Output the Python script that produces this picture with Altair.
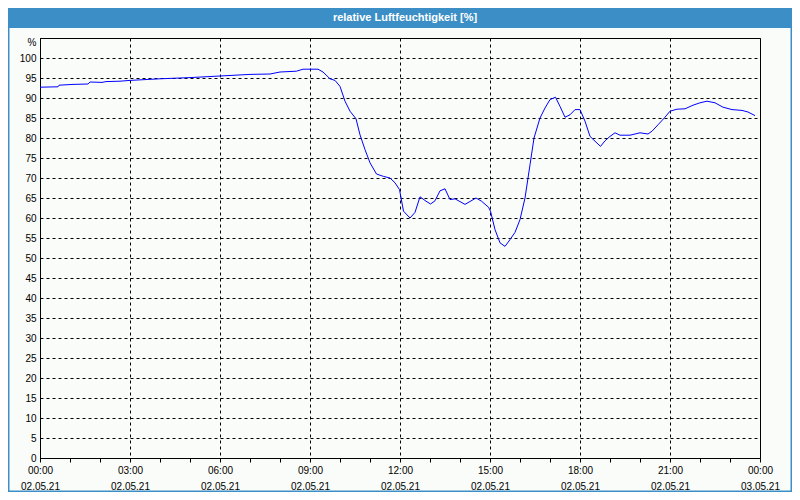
import altair as alt
import pandas as pd

# --- data ---------------------------------------------------------------
times = [
    "00:00", "00:36", "00:38", "01:06", "01:36", "01:40", "02:04", "02:12", "02:40",
    "03:00", "04:00", "05:00", "06:00", "07:00", "07:40", "08:00", "08:33", "08:46",
    "09:00", "09:16", "09:26", "09:40", "09:50", "10:00", "10:10", "10:20", "10:32",
    "10:40", "10:50", "11:00", "11:13", "11:27", "11:40", "11:50", "11:59", "12:07",
    "12:20", "12:30", "12:40", "12:52", "13:01", "13:10", "13:20", "13:30", "13:40",
    "13:50", "14:10", "14:32", "14:43", "14:57", "15:01", "15:10", "15:20", "15:30",
    "15:40", "15:50", "16:00", "16:10", "16:20", "16:28", "16:40", "16:50", "17:00",
    "17:11", "17:20", "17:30", "17:40", "17:50", "18:00", "18:10", "18:20", "18:30",
    "18:41", "18:50", "19:00", "19:10", "19:20", "19:40", "20:00", "20:16", "20:24",
    "20:36", "20:50", "21:00", "21:14", "21:30", "21:46", "22:00", "22:14", "22:30",
    "22:46", "23:04", "23:24", "23:36", "23:50",
]
humidity = [
    92.7, 92.8, 93.2, 93.4, 93.5, 94.0, 93.9, 94.1, 94.2,
    94.4, 94.8, 95.1, 95.5, 95.9, 96.0, 96.5, 96.7, 97.2,
    97.2, 97.2, 96.5, 94.8, 94.4, 92.9, 89.2, 86.7, 84.8,
    80.8, 77.1, 73.8, 71.0, 70.4, 70.0, 68.8, 67.1, 61.7,
    60.0, 61.4, 65.3, 64.2, 63.5, 64.3, 66.8, 67.3, 64.6,
    64.8, 63.4, 65.0, 64.2, 62.7, 61.7, 57.1, 53.8, 52.9,
    54.6, 56.4, 59.6, 65.0, 73.3, 80.0, 85.0, 87.5, 89.6,
    90.2, 87.9, 85.2, 85.8, 87.1, 87.1, 84.2, 80.4, 79.2,
    77.9, 79.3, 80.4, 81.3, 80.7, 80.7, 81.3, 81.0, 81.7,
    83.3, 85.2, 86.7, 87.2, 87.3, 88.2, 88.8, 89.2, 88.8,
    87.7, 87.1, 86.9, 86.5, 85.6,
]
y_ticks = [0, 5, 10, 15, 20, 25, 30, 35, 40, 45, 50, 55, 60, 65, 70, 75, 80, 85, 90, 95, 100, 104]
title_text = "relative Luftfeuchtigkeit [%]"

df = pd.DataFrame({"t": ["2021-05-02T" + t + ":00" for t in times], "rh": humidity})

x_vals = [alt.DateTime(year=2021, month=5, date=2, hours=h) for h in range(24)] + [
    alt.DateTime(year=2021, month=5, date=3, hours=0)
]

FONT = "Liberation Sans"
BLUE = "#3c8fc6"
PAD_L, PAD_T, PAD_R, PAD_B = 32, 30, 32, 34
W, H = 720, 420

line = alt.Chart(df).mark_line(color="#0000ff", strokeWidth=1, interpolate="linear").encode(
    x=alt.X(
        "t:T",
        title=None,
        scale=alt.Scale(
            domain=[
                alt.DateTime(year=2021, month=5, date=2, hours=0),
                alt.DateTime(year=2021, month=5, date=3, hours=0),
            ]
        ),
        axis=alt.Axis(
            values=x_vals,
            labelExpr="hours(datum.value) % 3 == 0 ? [timeFormat(datum.value, '%H:%M'), timeFormat(datum.value, '%d.%m.%y')] : ''",
            labelOverlap=False,
            labelFlush=False,
            labelBound=False,
            labelLineHeight=16,
            labelPadding=3,
            tickSize=4,
            tickColor="black",
            domainColor="black",
            grid=True,
            gridColor="black",
            gridDash=[3, 3],
            gridOpacity={"condition": {"test": "hours(datum.value) % 3 != 0", "value": 0}, "value": 1},
        ),
    ),
    y=alt.Y(
        "rh:Q",
        title=None,
        scale=alt.Scale(domain=[0, 105], nice=False, zero=True),
        axis=alt.Axis(
            values=y_ticks,
            labelExpr="datum.value == 104 ? '%' : datum.label",
            ticks=False,
            labelPadding=4,
            domainColor="black",
            grid=True,
            gridColor="black",
            gridDash=[3, 3],
            gridOpacity={"condition": {"test": "datum.value > 100", "value": 0}, "value": 1},
        ),
    ),
)

one = pd.DataFrame({"a": [0]})

title_bar = alt.Chart(one).mark_rect(color=BLUE).encode(
    x=alt.value(-PAD_L), x2=alt.value(W + PAD_R), y=alt.value(-PAD_T), y2=alt.value(-PAD_T + 20)
)
title = alt.Chart(one).mark_text(
    color="white", font=FONT, fontSize=11, fontWeight="bold", align="center", baseline="middle"
).encode(x=alt.value(365), y=alt.value(-PAD_T + 10), text=alt.value(title_text))
frame = alt.Chart(one).mark_rect(fill=None, stroke=BLUE, strokeWidth=1.5).encode(
    x=alt.value(-PAD_L + 0.75), x2=alt.value(W + PAD_R - 0.75),
    y=alt.value(-PAD_T + 0.75), y2=alt.value(H + PAD_B - 0.75)
)

chart = (
    alt.layer(title_bar, title, frame, line)
    .properties(
        width=W,
        height=H,
        autosize=alt.AutoSizeParams(type="none"),
        padding={"left": PAD_L, "top": PAD_T, "right": PAD_R, "bottom": PAD_B},
        background="#fafcf9",
    )
    .configure_view(stroke="black", strokeWidth=1)
    .configure_axis(labelFont=FONT, labelFontSize=10, labelColor="#000000")
)

chart.save("out.html", embed_options={"renderer": "svg", "actions": False})
